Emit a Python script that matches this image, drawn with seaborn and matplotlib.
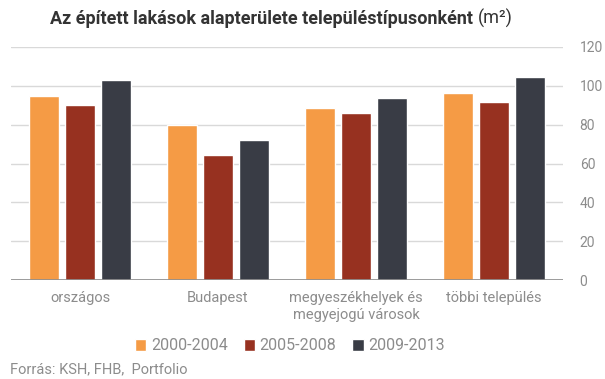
import matplotlib
matplotlib.use("Agg")
import matplotlib.pyplot as plt
import seaborn as sns
import pandas as pd

categories = ["országos", "Budapest", "megyeszékhelyek és\nmegyejogú városok", "többi település"]
series = ["2000-2004", "2005-2008", "2009-2013"]
v2000_2004 = [95.0, 80.0, 88.7, 96.4]
v2005_2008 = [90.2, 64.4, 86.1, 91.8]
v2009_2013 = [103.1, 72.2, 93.8, 104.6]
yticks = [0, 20, 40, 60, 80, 100, 120]
colors = ["#F59B45", "#973120", "#393C45"]

rows = []
for s, vals in zip(series, [v2000_2004, v2005_2008, v2009_2013]):
    for c, v in zip(categories, vals):
        rows.append({"cat": c, "series": s, "value": v})
df = pd.DataFrame(rows)

sns.set_theme(style="white")
plt.rcParams["font.family"] = ["Roboto", "DejaVu Sans"]

fig = plt.figure(figsize=(6.05, 3.79), dpi=100)
ax = fig.add_axes([11/605, (379-280)/379, 552/605, 233/379])

sns.barplot(data=df, x="cat", y="value", hue="series", order=categories,
            hue_order=series, palette=colors, width=0.783, gap=0.167,
            saturation=1, ax=ax, legend=True)

ax.set_xlim(-0.5, 3.5)
ax.set_ylim(0, 120)
ax.set_yticks(yticks)
ax.yaxis.tick_right()
ax.tick_params(axis="y", length=0, pad=12, labelcolor="#8c8c8c", labelsize=10)
ax.tick_params(axis="x", length=0, pad=8, labelcolor="#8c8c8c", labelsize=10.5)
ax.set_xlabel("")
ax.set_ylabel("")
for sp in ax.spines.values():
    sp.set_visible(False)
ax.grid(axis="y", color="#d9d9d9", linewidth=1)
ax.set_axisbelow(True)
ax.axhline(0, color="#8c8c8c", linewidth=1.2, zorder=3)
for lbl in ax.get_xticklabels():
    lbl.set_linespacing(1.3)

handles, labels = ax.get_legend_handles_labels()
ax.get_legend().remove()
fig.legend(handles, labels, loc="center", bbox_to_anchor=(290/605, 1-346/379),
           ncol=3, frameon=False, handlelength=0.7, handleheight=0.7,
           handletextpad=0.3, columnspacing=1.0, fontsize=11.5,
           labelcolor="#8c8c8c")

fig.text(10/605, 1-369/379, "Forrás: KSH, FHB,  Portfolio", ha="left", va="center",
         fontsize=10.5, color="#8c8c8c")
title = fig.text(262/605, 1-19/379, "Az épített lakások alapterülete településtípusonként",
                 ha="center", va="center", fontsize=13, fontweight="bold", color="#333333")
fig.canvas.draw()
bb = title.get_window_extent()
fig.text((bb.x1 + 4)/605, 1-18/379, "(m²)", ha="left", va="center",
         fontsize=13, color="#333333")

fig.savefig("out.png", dpi=100, facecolor="white")
